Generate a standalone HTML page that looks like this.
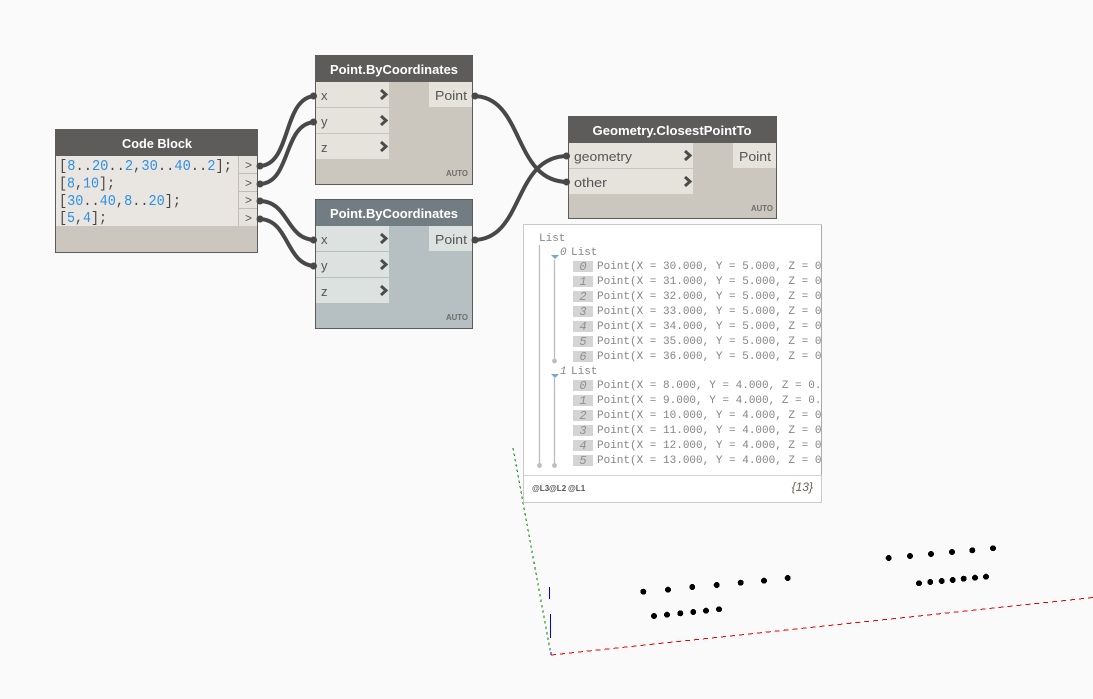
<!DOCTYPE html>
<html><head><meta charset="utf-8"><style>
html,body{margin:0;padding:0;background:#fafafa}
svg{display:block}
text{font-family:"Liberation Sans",sans-serif}
.h{font-size:13px;font-weight:bold;fill:#fff;text-anchor:middle}
.p{font-size:13px;fill:#555}
.a{font-size:8.5px;font-weight:bold;fill:#6e6e6e}
.c{font-family:"Liberation Mono",monospace;font-size:14.5px;fill:#444}
.c tspan{fill:#2f8fe6}
.m{font-family:"Liberation Mono",monospace;font-size:11px;fill:#858585}
.i{font-family:"Liberation Mono",monospace;font-size:12px;font-style:italic;fill:#8f8f8f;text-anchor:middle}
.w{fill:none;stroke:#484848;stroke-width:4}
.n{fill:#484848}
.chev{fill:none;stroke:#4c4c4c;stroke-width:3}
.sep{stroke:#c9c5be;stroke-width:1}
.t{stroke:#bdbdbd;stroke-width:1.3}
.d{fill:#bdbdbd}
.ix{fill:#d4d4d4}
</style></head><body>
<svg width="1093" height="699" viewBox="0 0 1093 699" xmlns="http://www.w3.org/2000/svg">
<rect width="1093" height="699" fill="#fafafa"/>

<!-- Code Block -->
<rect x="55.5" y="129.5" width="202" height="123" fill="#cbc6be" stroke="#5e5c5a"/>
<rect x="55" y="129" width="203" height="27" fill="#5e5c5a"/>
<text class="h" x="157" y="148" textLength="70" lengthAdjust="spacingAndGlyphs">Code Block</text>
<rect x="56" y="156" width="182" height="70" fill="#e9e6e2"/>
<rect x="238" y="156" width="19" height="70" fill="#e6e3dd"/>
<path d="M238.500 156V226M238 173.500H257M238 191.500H257M238 208.500H257" stroke="#c2beb7" fill="none"/>
<g font-size="12" fill="#555" style="font-family:'Liberation Sans',sans-serif">
<text x="245" y="169">&gt;</text><text x="245" y="187">&gt;</text><text x="245" y="204">&gt;</text><text x="245" y="222">&gt;</text>
</g>
<text class="c" x="59" y="170" textLength="173" lengthAdjust="spacingAndGlyphs">[<tspan>8</tspan>..<tspan>20</tspan>..<tspan>2</tspan>,<tspan>30</tspan>..<tspan>40</tspan>..<tspan>2</tspan>];</text>
<text class="c" x="59" y="187.500" textLength="56" lengthAdjust="spacingAndGlyphs">[<tspan>8</tspan>,<tspan>10</tspan>];</text>
<text class="c" x="59" y="205" textLength="122" lengthAdjust="spacingAndGlyphs">[<tspan>30</tspan>..<tspan>40</tspan>,<tspan>8</tspan>..<tspan>20</tspan>];</text>
<text class="c" x="59" y="222" textLength="48" lengthAdjust="spacingAndGlyphs">[<tspan>5</tspan>,<tspan>4</tspan>];</text>

<!-- Point.ByCoordinates top -->
<rect x="315.500" y="55.500" width="157" height="129" fill="#cbc6be" stroke="#5e5c5a"/>
<rect x="315" y="55" width="158" height="27" fill="#5e5c5a"/>
<text class="h" x="394" y="74" textLength="128" lengthAdjust="spacingAndGlyphs">Point.ByCoordinates</text>
<rect x="316" y="82" width="73" height="77" fill="#e6e3dd"/>
<rect x="429" y="82" width="43" height="25" fill="#e6e3dd"/>
<path class="sep" d="M316 107.500H389M316 133.500H389"/>
<text class="p" x="321" y="100">x</text><text class="p" x="321" y="126">y</text><text class="p" x="321" y="152">z</text>
<text class="p" x="435" y="100" textLength="32" lengthAdjust="spacingAndGlyphs">Point</text>
<path class="chev" d="M381 90l5 4.500-5 4.500M381 116l5 4.500-5 4.500M381 142l5 4.500-5 4.500"/>
<text class="a" x="446" y="176" textLength="22" lengthAdjust="spacingAndGlyphs">AUTO</text>

<!-- Point.ByCoordinates bottom -->
<rect x="315.500" y="199.500" width="157" height="129" fill="#b6bfc1" stroke="#5e5c5a"/>
<rect x="315" y="199" width="158" height="27" fill="#727d83"/>
<rect x="315.500" y="199.500" width="157" height="129" fill="none" stroke="#5e5c5a"/>
<text class="h" x="394" y="218" textLength="128" lengthAdjust="spacingAndGlyphs">Point.ByCoordinates</text>
<rect x="316" y="226" width="73" height="77" fill="#dde2e1"/>
<rect x="429" y="226" width="43" height="25" fill="#dde2e1"/>
<path d="M316 251.500H389M316 277.500H389" stroke="#b6bfc1"/>
<text class="p" x="321" y="244">x</text><text class="p" x="321" y="270">y</text><text class="p" x="321" y="296">z</text>
<text class="p" x="435" y="244" textLength="32" lengthAdjust="spacingAndGlyphs">Point</text>
<path class="chev" d="M381 234l5 4.500-5 4.500M381 260l5 4.500-5 4.500M381 286l5 4.500-5 4.500"/>
<text class="a" x="446" y="320" textLength="22" lengthAdjust="spacingAndGlyphs">AUTO</text>

<!-- Geometry.ClosestPointTo -->
<rect x="568.500" y="116.500" width="208" height="102" fill="#cbc6be" stroke="#5e5c5a"/>
<rect x="568" y="116" width="209" height="27" fill="#5e5c5a"/>
<text class="h" x="672" y="135" textLength="159" lengthAdjust="spacingAndGlyphs">Geometry.ClosestPointTo</text>
<rect x="569" y="143" width="124" height="51" fill="#e6e3dd"/>
<rect x="733" y="143" width="43" height="25" fill="#e6e3dd"/>
<path class="sep" d="M569 168.500H693"/>
<text class="p" x="574" y="161" textLength="58" lengthAdjust="spacingAndGlyphs">geometry</text>
<text class="p" x="574" y="187" textLength="33" lengthAdjust="spacingAndGlyphs">other</text>
<text class="p" x="739" y="161" textLength="32" lengthAdjust="spacingAndGlyphs">Point</text>
<path class="chev" d="M685 151l5 4.500-5 4.500M685 177l5 4.500-5 4.500"/>
<text class="a" x="751" y="211" textLength="22" lengthAdjust="spacingAndGlyphs">AUTO</text>

<!-- Wires -->
<path class="w" d="M259 166C292 166 282 96 316 96"/>
<path class="w" d="M259 184C292 184 282 122 316 122"/>
<path class="w" d="M259 201C290 201 285 240 316 240"/>
<path class="w" d="M259 219C290 219 285 266 316 266"/>
<path class="w" d="M473 96C525 96 512 182 568 182"/>
<path class="w" d="M473 240C525 240 512 156 568 156"/>
<g class="n">
<circle cx="260" cy="166" r="3.500"/><circle cx="260" cy="184" r="3.500"/><circle cx="260" cy="201" r="3.500"/><circle cx="260" cy="219" r="3.500"/>
<circle cx="313.500" cy="96" r="3.500"/><circle cx="313.500" cy="122" r="3.500"/><circle cx="313.500" cy="240" r="3.500"/><circle cx="313.500" cy="266" r="3.500"/>
<circle cx="475" cy="96" r="3.500"/><circle cx="475" cy="240" r="3.500"/>
<circle cx="566.500" cy="156" r="3.500"/><circle cx="566.500" cy="182" r="3.500"/>
</g>

<!-- Axes (under the watch panel) -->
<g shape-rendering="crispEdges">
<line x1="513" y1="448" x2="551" y2="655" stroke="#008000" stroke-width="1" stroke-dasharray="2.500 3"/>
<line x1="551" y1="655" x2="1093" y2="597.500" stroke="#f00000" stroke-width="1" stroke-dasharray="5 4"/>
<path d="M549.500 587V599M550.500 614V638M551 652V655" stroke="#0000e0" stroke-width="1.200" fill="none"/>
</g>

<!-- Watch -->
<rect x="523.500" y="224.500" width="298" height="278" fill="#fff" stroke="#c9c9c9"/>
<line x1="523" y1="475.500" x2="822" y2="475.500" stroke="#d2d2d2"/>
<text class="m" x="539" y="241">List</text>
<path class="t" d="M539.500 245V465"/>
<path class="t" d="M554.500 260V360M554.500 378V465"/>
<circle class="d" cx="539.500" cy="465.500" r="2.400"/><circle class="d" cx="554.500" cy="465.500" r="2.400"/><circle class="d" cx="554.500" cy="361" r="2.400"/>
<path d="M551 255h8l-4 4z M551 374h8l-4 4z" fill="#6ea9d6"/>
<text class="m" x="560" y="255" font-style="italic">0</text><text class="m" x="571" y="255">List</text>
<text class="m" x="560" y="374" font-style="italic">1</text><text class="m" x="571" y="374">List</text>
<g>
<rect class="ix" x="573" y="261" width="20" height="11"/><rect class="ix" x="573" y="276" width="20" height="11"/><rect class="ix" x="573" y="291" width="20" height="11"/><rect class="ix" x="573" y="306" width="20" height="11"/><rect class="ix" x="573" y="321" width="20" height="11"/><rect class="ix" x="573" y="336" width="20" height="11"/><rect class="ix" x="573" y="351" width="20" height="11"/>
<rect class="ix" x="573" y="380" width="20" height="11"/><rect class="ix" x="573" y="395" width="20" height="11"/><rect class="ix" x="573" y="410" width="20" height="11"/><rect class="ix" x="573" y="425" width="20" height="11"/><rect class="ix" x="573" y="440" width="20" height="11"/><rect class="ix" x="573" y="455" width="20" height="11"/>
</g>
<g>
<text class="i" x="583" y="270">0</text><text class="i" x="583" y="285">1</text><text class="i" x="583" y="300">2</text><text class="i" x="583" y="315">3</text><text class="i" x="583" y="330">4</text><text class="i" x="583" y="345">5</text><text class="i" x="583" y="360">6</text>
<text class="i" x="583" y="389">0</text><text class="i" x="583" y="404">1</text><text class="i" x="583" y="419">2</text><text class="i" x="583" y="434">3</text><text class="i" x="583" y="449">4</text><text class="i" x="583" y="464">5</text>
</g>
<g>
<text class="m" x="597" y="269">Point(X = 30.000, Y = 5.000, Z = 0</text>
<text class="m" x="597" y="284">Point(X = 31.000, Y = 5.000, Z = 0</text>
<text class="m" x="597" y="299">Point(X = 32.000, Y = 5.000, Z = 0</text>
<text class="m" x="597" y="314">Point(X = 33.000, Y = 5.000, Z = 0</text>
<text class="m" x="597" y="329">Point(X = 34.000, Y = 5.000, Z = 0</text>
<text class="m" x="597" y="344">Point(X = 35.000, Y = 5.000, Z = 0</text>
<text class="m" x="597" y="359">Point(X = 36.000, Y = 5.000, Z = 0</text>
<text class="m" x="597" y="388">Point(X = 8.000, Y = 4.000, Z = 0.</text>
<text class="m" x="597" y="403">Point(X = 9.000, Y = 4.000, Z = 0.</text>
<text class="m" x="597" y="418">Point(X = 10.000, Y = 4.000, Z = 0</text>
<text class="m" x="597" y="433">Point(X = 11.000, Y = 4.000, Z = 0</text>
<text class="m" x="597" y="448">Point(X = 12.000, Y = 4.000, Z = 0</text>
<text class="m" x="597" y="463">Point(X = 13.000, Y = 4.000, Z = 0</text>
</g>
<line x1="821.500" y1="225" x2="821.500" y2="475" stroke="#a9a9a9"/>
<g font-size="8" font-weight="bold" fill="#555">
<text x="532" y="491">@L3</text><text x="549" y="491">@L2</text><text x="568" y="491">@L1</text>
</g>
<text x="813" y="491" font-size="12" font-style="italic" fill="#6b5f55" text-anchor="end">{13}</text>

<!-- Points -->
<g fill="#000" shape-rendering="crispEdges">
<circle cx="643.300" cy="591.700" r="3"/><circle cx="668" cy="589.700" r="3"/><circle cx="692.300" cy="587" r="3"/><circle cx="716.700" cy="585" r="3"/><circle cx="740.700" cy="582.700" r="3"/><circle cx="764" cy="580.700" r="3"/><circle cx="787.700" cy="578" r="3"/>
<circle cx="654" cy="616" r="3"/><circle cx="667" cy="614.700" r="3"/><circle cx="680.300" cy="613.300" r="3"/><circle cx="693.300" cy="612" r="3"/><circle cx="706" cy="610.700" r="3"/><circle cx="719" cy="609.300" r="3"/>
<circle cx="888.700" cy="558" r="3"/><circle cx="910" cy="556" r="3"/><circle cx="931" cy="554" r="3"/><circle cx="952" cy="552" r="3"/><circle cx="972.300" cy="550.300" r="3"/><circle cx="993" cy="548.300" r="3"/>
<circle cx="919" cy="583.300" r="3"/><circle cx="930.300" cy="582" r="3"/><circle cx="941.700" cy="581" r="3"/><circle cx="952.700" cy="580" r="3"/><circle cx="963.700" cy="578.700" r="3"/><circle cx="975" cy="577.700" r="3"/><circle cx="986" cy="576.700" r="3"/>
</g>
</svg>
</body></html>
